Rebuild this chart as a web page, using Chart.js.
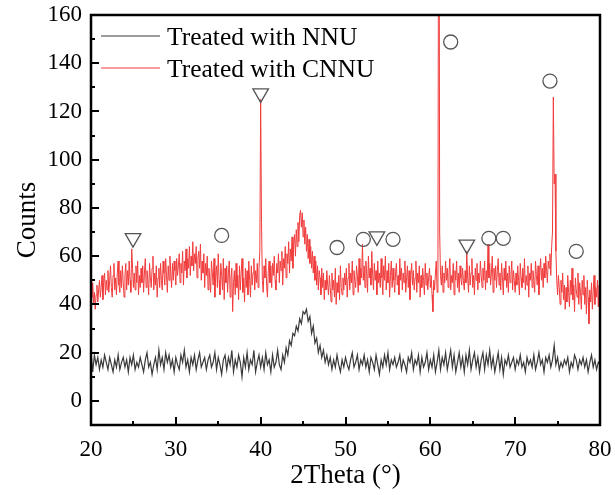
<!DOCTYPE html>
<html>
<head>
<meta charset="utf-8">
<script src="https://cdn.jsdelivr.net/npm/chart.js@4.4.0/dist/chart.umd.min.js"></script>
<style>
  body { margin: 0; background: #fff; }
  #xrdChart { display: block; }
</style>
</head>
<body>
<canvas id="xrdChart" width="615" height="495"></canvas>
<script>
// scan settings (2Theta, degrees)
const nnuStart = 20, nnuStep = 0.2;
const cnnuStart = 20, cnnuStep = 0.1;

// Treated with NNU, one row per 2 degrees
const nnuCounts = [
  20,12,19,15,18,13,17,14,19,16,
  13,18,15,12,17,14,19,13,16,18,
  14,17,12,18,15,19,13,16,14,18,
  15,12,17,20,14,16,11,15,18,13,
  21,15,18,13,20,16,19,14,17,12,
  18,15,13,19,16,21,14,17,12,18,
  15,19,13,17,20,14,16,18,13,17,
  19,14,16,20,13,18,15,11,17,19,
  13,18,15,21,12,17,14,19,16,10,
  18,14,20,13,17,15,21,12,16,19,
  14,18,13,20,15,17,12,19,14,16,
  21,15,13,19,16,22,19,25,23,28,
  27,31,29,34,32,37,36,38,33,35,
  28,31,24,26,20,23,18,21,16,19,
  15,18,13,17,14,19,15,12,17,14,
  18,15,13,17,20,14,16,19,13,17,
  15,19,14,17,12,18,16,13,19,15,
  11,17,14,19,15,20,13,17,15,18,
  14,16,19,13,17,15,12,18,16,20,
  13,17,15,19,12,18,14,16,20,13,
  17,14,19,12,16,21,13,18,15,20,
  13,17,21,14,19,12,16,20,14,18,
  12,19,15,21,13,17,20,14,18,12,
  17,20,13,19,15,21,14,18,12,16,
  20,13,18,11,17,15,19,14,16,18,
  13,17,15,19,14,16,12,18,15,17,
  14,19,13,16,20,15,17,12,18,16,
  19,14,17,23,15,18,13,16,14,17,
  15,18,12,16,14,19,17,13,17,15,
  18,14,17,12,16,19,14,17,13,16,
  15
];

// Treated with CNNU, one row per 2 degrees
const cnnuCounts = [
  47,43,49,40,45,38,44,48,41,46,50,43,47,52,42,49,53,44,50,46,
  54,45,50,56,47,43,52,57,46,51,44,53,58,48,45,54,47,56,49,43,
  52,57,46,54,48,58,50,45,63,55,47,53,46,56,49,58,44,52,47,55,
  49,56,45,53,59,47,54,50,44,57,51,47,55,60,46,53,48,56,43,51,
  55,47,57,50,46,58,53,48,59,52,45,56,50,60,53,47,57,50,58,54,
  48,59,52,56,61,49,57,53,62,48,58,54,63,51,59,55,64,52,60,56,
  66,54,61,57,64,51,59,62,55,65,50,58,53,61,47,57,52,60,46,55,
  51,45,58,53,48,59,43,52,56,47,61,50,44,57,52,46,59,42,55,49,
  56,45,53,58,43,51,55,37,49,54,44,57,47,52,42,56,46,53,59,45,
  51,41,55,47,54,44,58,50,43,56,48,53,59,46,54,49,57,47,55,62,
  125,74,50,45,56,51,59,48,43,54,58,49,56,47,57,52,60,50,46,57,
  53,61,49,58,54,62,48,59,55,64,51,61,57,66,53,63,58,68,55,65,
  69,60,71,64,74,66,77,79,72,78,68,75,65,72,62,69,59,67,57,64,
  55,62,53,60,50,58,48,56,46,54,51,44,55,47,53,42,50,46,54,48,
  44,52,47,41,53,46,50,43,55,40,49,45,52,42,56,47,44,51,46,53,
  48,55,43,51,57,46,53,49,58,44,54,50,47,56,52,45,59,48,55,51,
  65,50,56,47,58,53,45,60,51,55,48,62,52,46,57,50,54,44,58,49,
  53,47,59,51,44,56,50,60,46,54,49,57,43,52,58,47,55,50,45,53,
  57,48,52,44,59,50,55,46,53,49,58,45,51,56,47,54,42,52,57,48,
  54,46,51,58,45,53,49,56,43,52,47,55,50,44,57,48,53,46,51,55,
  47,52,44,37,50,46,53,58,45,62,290,70,52,48,56,45,53,49,58,50,
  55,47,53,59,46,52,49,57,44,54,50,58,47,53,45,56,51,48,55,50,
  46,54,49,62,51,45,56,48,53,59,47,52,44,55,50,57,46,53,49,58,
  52,47,55,50,58,46,54,49,65,51,57,48,53,60,45,55,50,56,47,54,
  59,48,53,46,57,51,44,55,50,58,47,53,45,56,49,52,58,46,54,50,
  45,53,48,56,50,44,57,51,47,55,49,59,46,52,48,56,43,53,50,57,
  47,54,50,45,58,52,48,56,44,53,59,50,55,47,57,51,60,54,49,58,
  55,61,52,64,70,126,90,94,62,50,44,52,47,40,50,45,53,42,48,38,
  47,41,52,45,39,50,44,55,42,48,37,51,46,43,53,40,49,45,38,50,
  44,52,40,47,36,50,43,32,46,41,49,38,45,52,40,47,43,50,39,48,
  44
];

const seriesLabels = ['Treated with NNU', 'Treated with CNNU'];
const seriesColors = ['#3a3a3a', '#f03c3c'];

// phase markers [2Theta, Counts]
const circlePeaks = [[35.4,68.6],[62.4,148.8],[49.0,63.6],[52.1,67],[55.6,67],[66.9,67.4],[68.6,67.4],[74.1,132.6],[77.2,62]];
const trianglePeaks = [[24.95,67.5],[40.0,127.5],[53.7,68.2],[64.3,64.8]];

const xTicks = [20, 30, 40, 50, 60, 70, 80];
const yTicks = [0, 20, 40, 60, 80, 100, 120, 140, 160];

const serif = '"Liberation Serif", "Times New Roman", serif';

function toPoints(start, step, values) {
    return values.map((v, i) => ({ x: +(start + i * step).toFixed(2), y: v }));
}

// box, inward ticks and the legend
const frameAndLegend = {
    id: 'frameAndLegend',
    afterDraw(chart) {
        const { ctx, chartArea: a, scales: { x, y } } = chart;
        ctx.save();
        ctx.strokeStyle = '#000';
        ctx.lineWidth = 2;
        ctx.beginPath();
        for (let v = xTicks[0]; v <= xTicks[xTicks.length - 1]; v += 5) {
            const px = Math.round(x.getPixelForValue(v));
            const len = v % 10 === 0 ? 8 : 4;
            ctx.moveTo(px, a.bottom);
            ctx.lineTo(px, a.bottom - len);
        }
        for (let v = yTicks[0]; v <= yTicks[yTicks.length - 1]; v += 10) {
            const py = Math.round(y.getPixelForValue(v));
            const len = v % 20 === 0 ? 8 : 4;
            ctx.moveTo(a.left, py);
            ctx.lineTo(a.left + len, py);
        }
        ctx.stroke();
        ctx.lineWidth = 2.5;
        ctx.strokeRect(a.left, a.top, a.right - a.left, a.bottom - a.top);

        // legend
        ctx.font = '25.5px ' + serif;
        ctx.textBaseline = 'alphabetic';
        ctx.fillStyle = '#000';
        ctx.lineWidth = 1.2;
        seriesLabels.forEach((label, i) => {
            const ly = 36 + i * 32;
            ctx.strokeStyle = seriesColors[i];
            ctx.beginPath();
            ctx.moveTo(101, ly);
            ctx.lineTo(160, ly);
            ctx.stroke();
            ctx.fillText(label, 167, ly + 9);
        });
        ctx.restore();
    }
};

const ctx = document.getElementById('xrdChart').getContext('2d');
new Chart(ctx, {
    type: 'scatter',
    data: {
        datasets: [
            {
                label: 'circles',
                data: circlePeaks.map(p => ({ x: p[0], y: p[1] })),
                pointStyle: 'circle',
                pointRadius: 7,
                pointBorderWidth: 1.3,
                pointBorderColor: '#555',
                pointBackgroundColor: 'rgba(0,0,0,0)',
                showLine: false,
                order: 1
            },
            {
                label: 'triangles',
                data: trianglePeaks.map(p => ({ x: p[0], y: p[1] })),
                pointStyle: 'triangle',
                pointRotation: 180,
                pointRadius: 9,
                pointBorderWidth: 1.3,
                pointBorderColor: '#555',
                pointBackgroundColor: 'rgba(0,0,0,0)',
                showLine: false,
                order: 1
            },
            {
                label: seriesLabels[0],
                data: toPoints(nnuStart, nnuStep, nnuCounts),
                showLine: true,
                borderColor: seriesColors[0],
                borderWidth: 1.2,
                pointRadius: 0,
                tension: 0,
                order: 2
            },
            {
                label: seriesLabels[1],
                data: toPoints(cnnuStart, cnnuStep, cnnuCounts),
                showLine: true,
                borderColor: seriesColors[1],
                borderWidth: 1,
                pointRadius: 0,
                tension: 0,
                order: 2
            }
        ]
    },
    options: {
        responsive: false,
        animation: false,
        layout: { padding: { top: 15, right: 15, left: 0, bottom: 0 } },
        plugins: {
            legend: { display: false },
            tooltip: { enabled: false }
        },
        scales: {
            x: {
                type: 'linear',
                min: 20,
                max: 80,
                afterBuildTicks: s => { s.ticks = xTicks.map(v => ({ value: v })); },
                afterFit: s => {
                    s.height = 70;
                    s.paddingLeft = 0;
                    s.paddingRight = 0;
                },
                grid: { display: false, drawTicks: false },
                border: { display: false },
                ticks: { padding: 11, color: '#000', font: { family: serif, size: 23 } },
                title: {
                    display: true,
                    text: '2Theta (°)',
                    color: '#000',
                    font: { family: serif, size: 27 },
                    padding: { top: 0, bottom: 3 }
                }
            },
            y: {
                type: 'linear',
                min: -10,
                max: 160,
                afterBuildTicks: s => { s.ticks = yTicks.map(v => ({ value: v })); },
                afterFit: s => {
                    s.width = 91;
                    s.paddingTop = 0;
                    s.paddingBottom = 0;
                },
                grid: { display: false, drawTicks: false },
                border: { display: false },
                ticks: { padding: 9, color: '#000', font: { family: serif, size: 23 } },
                title: {
                    display: true,
                    text: 'Counts',
                    color: '#000',
                    font: { family: serif, size: 27 },
                    padding: { top: 12, bottom: 0 }
                }
            }
        }
    },
    plugins: [frameAndLegend]
});
</script>
</body>
</html>
